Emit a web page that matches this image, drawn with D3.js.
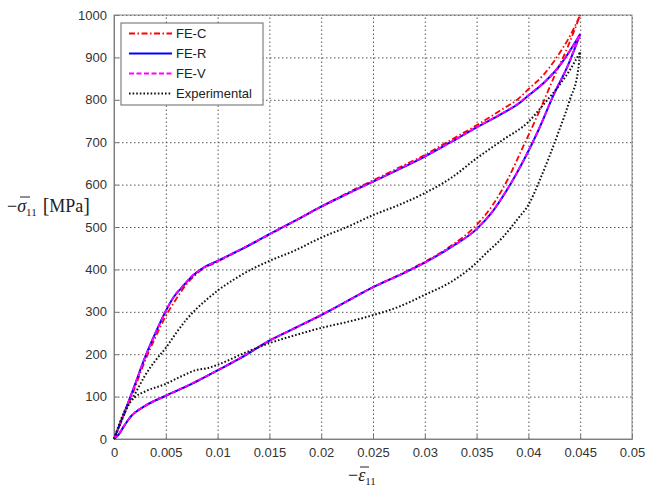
<!DOCTYPE html>
<html>
<head>
<meta charset="utf-8">
<script src="https://cdn.jsdelivr.net/npm/d3@7"></script>
<style>
  body { margin: 0; background: #fff; }
  svg { display: block; }
  .tick text { font-family: "Liberation Sans", Arial, sans-serif; font-size: 13px; fill: #333; }
</style>
</head>
<body>
<svg width="646" height="491"></svg>
<script>
// strain ticks / stress ticks
var xTicks = [0, 0.005, 0.01, 0.015, 0.02, 0.025, 0.03, 0.035, 0.04, 0.045, 0.05];
var xTickLabels = ["0", "0.005", "0.01", "0.015", "0.02", "0.025", "0.03", "0.035", "0.04", "0.045", "0.05"];
var yTicks = [0, 100, 200, 300, 400, 500, 600, 700, 800, 900, 1000];

// upper (loading) branches, [strain, stress]
var feC_upper = [[0,0],[0.001,58],[0.002,120],[0.003,185],[0.004,240],[0.005,290],[0.006,330],[0.007,365],[0.008,390],[0.0085,400],[0.01,418],[0.0125,450],[0.015,482],[0.0175,515],[0.02,548],[0.0225,580],[0.025,610],[0.0275,640],[0.03,670],[0.0325,705],[0.035,740],[0.0375,778],[0.039,802],[0.04,825],[0.0415,860],[0.043,910],[0.044,950],[0.045,1000]];
var feR_upper = [[0,0],[0.001,62],[0.002,127],[0.003,193],[0.004,250],[0.005,302],[0.0058,336],[0.0065,356],[0.0075,383],[0.0085,402],[0.01,420],[0.0125,450],[0.015,483],[0.0175,515],[0.02,548],[0.0225,578],[0.025,607],[0.0275,636],[0.03,666],[0.0325,700],[0.035,735],[0.0375,768],[0.039,790],[0.04,810],[0.0415,840],[0.043,880],[0.044,915],[0.045,955]];
var feV_upper = [[0,0],[0.001,62],[0.002,127],[0.003,193],[0.004,250],[0.005,302],[0.0058,337],[0.0065,357],[0.0075,384],[0.0085,402],[0.01,420],[0.0125,451],[0.015,483],[0.0175,515],[0.02,548],[0.0225,578],[0.025,607],[0.0275,637],[0.03,667],[0.0325,700],[0.035,735],[0.0375,769],[0.039,791],[0.04,811],[0.0415,841],[0.043,881],[0.044,916],[0.045,955]];
var exp_upper = [[0,0],[0.0005,30],[0.001,60],[0.002,105],[0.003,150],[0.004,185],[0.005,215],[0.006,250],[0.007,282],[0.008,308],[0.009,330],[0.01,350],[0.0115,375],[0.0135,403],[0.015,420],[0.0175,445],[0.02,475],[0.0225,500],[0.025,528],[0.0275,552],[0.03,580],[0.0325,615],[0.035,662],[0.0375,705],[0.04,748],[0.0415,790],[0.043,835],[0.044,870],[0.045,913]];

// lower branches, [strain, stress]
var feC_lower = [[0,0],[0.0005,12],[0.001,32],[0.0017,55],[0.003,78],[0.005,102],[0.0075,130],[0.01,162],[0.0125,195],[0.015,232],[0.0175,262],[0.02,292],[0.0225,325],[0.025,358],[0.0275,387],[0.03,418],[0.0325,455],[0.035,505],[0.0365,550],[0.038,612],[0.0395,690],[0.041,770],[0.0425,855],[0.0438,925],[0.045,1000]];
var feR_lower = [[0,0],[0.0005,12],[0.001,32],[0.0017,55],[0.003,78],[0.005,102],[0.0075,130],[0.01,162],[0.0125,195],[0.015,232],[0.0175,262],[0.02,292],[0.0225,325],[0.025,358],[0.0275,386],[0.03,416],[0.0325,452],[0.035,495],[0.0365,535],[0.038,590],[0.0395,655],[0.041,730],[0.0425,815],[0.0438,880],[0.045,955]];
var feV_lower = [[0,0],[0.0005,12],[0.001,32],[0.0017,55],[0.003,78],[0.005,102],[0.0075,131],[0.01,162],[0.0125,196],[0.015,232],[0.0175,262],[0.02,293],[0.0225,325],[0.025,358],[0.0275,386],[0.03,416],[0.0325,452],[0.035,496],[0.0365,536],[0.038,591],[0.0395,656],[0.041,731],[0.0425,816],[0.0438,881],[0.045,955]];
var exp_lower = [[0,0],[0.0005,35],[0.001,65],[0.002,98],[0.003,112],[0.005,130],[0.0065,148],[0.008,163],[0.009,167],[0.01,175],[0.0125,202],[0.015,226],[0.0175,245],[0.02,262],[0.0225,276],[0.025,292],[0.0275,312],[0.03,340],[0.0325,370],[0.0345,405],[0.036,440],[0.0375,475],[0.039,520],[0.04,552],[0.041,605],[0.042,665],[0.043,730],[0.044,800],[0.0448,870],[0.045,913]];

var seriesNames = ["FE-C", "FE-R", "FE-V", "Experimental"];

var svg = d3.select("svg");
var pLeft = 114, pRight = 632, pTop = 15, pBottom = 439;

var x = d3.scaleLinear().domain([0, 0.05]).range([pLeft, pRight]);
var y = d3.scaleLinear().domain([0, 1000]).range([pBottom, pTop]);

// grid
svg.append("g")
  .attr("transform", "translate(0," + pBottom + ")")
  .call(d3.axisBottom(x).tickValues(xTicks).tickSize(-(pBottom - pTop)).tickFormat(""))
  .call(function(g) {
    g.select(".domain").remove();
    g.selectAll("line").attr("stroke", "#555").attr("stroke-dasharray", "1.5,2.5");
  });
svg.append("g")
  .attr("transform", "translate(" + pLeft + ",0)")
  .call(d3.axisLeft(y).tickValues(yTicks).tickSize(-(pRight - pLeft)).tickFormat(""))
  .call(function(g) {
    g.select(".domain").remove();
    g.selectAll("line").attr("stroke", "#555").attr("stroke-dasharray", "1.5,2.5");
  });

// axes with labels
svg.append("g")
  .attr("transform", "translate(0," + pBottom + ")")
  .call(d3.axisBottom(x).tickValues(xTicks).tickSize(-4).tickPadding(9)
    .tickFormat(function(d, i) { return xTickLabels[i]; }))
  .call(function(g) {
    g.select(".domain").attr("stroke", "#777");
    g.selectAll("line").attr("stroke", "#777");
  });
svg.append("g")
  .attr("transform", "translate(" + pLeft + ",0)")
  .call(d3.axisLeft(y).tickValues(yTicks).tickSize(-4).tickPadding(7).tickFormat(d3.format("d")))
  .call(function(g) {
    g.select(".domain").attr("stroke", "#777");
    g.selectAll("line").attr("stroke", "#777");
  });
svg.append("rect")
  .attr("x", pLeft).attr("y", pTop)
  .attr("width", pRight - pLeft).attr("height", pBottom - pTop)
  .attr("fill", "none").attr("stroke", "#888").attr("stroke-width", 1);

var line = d3.line()
  .x(function(d) { return x(d[0]); })
  .y(function(d) { return y(d[1]); })
  .curve(d3.curveMonotoneX);

var styles = [
  { data: [feC_upper, feC_lower], color: "#ff0000", width: 1.8, dash: "6,2.5,1.5,2.5" },
  { data: [feR_upper, feR_lower], color: "#0000ff", width: 2, dash: null },
  { data: [feV_upper, feV_lower], color: "#ff00ff", width: 1.8, dash: "5,2.5" },
  { data: [exp_upper, exp_lower], color: "#111", width: 2, dash: "1.6,2" }
];

svg.selectAll("path.series")
  .data(styles)
  .enter()
  .append("path")
  .attr("class", "series")
  .attr("d", function(d) {
    return line(d.data[0]) + line(d.data[1]);
  })
  .attr("fill", "none")
  .attr("stroke", function(d) { return d.color; })
  .attr("stroke-width", function(d) { return d.width; })
  .attr("stroke-dasharray", function(d) { return d.dash; });

// legend
var lg = svg.append("g");
lg.append("rect")
  .attr("x", 121).attr("y", 23).attr("width", 142).attr("height", 82)
  .attr("fill", "#fff").attr("stroke", "#666").attr("stroke-width", 1);
var items = lg.selectAll("g.item")
  .data(styles)
  .enter()
  .append("g")
  .attr("transform", function(d, i) { return "translate(0," + (33.5 + i * 20) + ")"; });
items.append("line")
  .attr("x1", 129).attr("x2", 172).attr("y1", 0).attr("y2", 0)
  .attr("stroke", function(d) { return d.color; })
  .attr("stroke-width", function(d) { return d.width; })
  .attr("stroke-dasharray", function(d) { return d.dash; });
items.append("text")
  .attr("x", 176).attr("y", 4.5)
  .style("font-family", "'Liberation Sans', Arial, sans-serif")
  .style("font-size", "13px")
  .attr("fill", "#222")
  .text(function(d, i) { return seriesNames[i]; });

// axis titles (bar over the symbol drawn as a short line)
var yl = svg.append("text")
  .attr("x", 7).attr("y", 212)
  .style("font-family", "'Liberation Serif', 'Times New Roman', serif")
  .style("font-size", "18px")
  .attr("fill", "#222");
yl.append("tspan").text("\u2212");
yl.append("tspan").style("font-style", "italic").text("\u03C3");
yl.append("tspan").attr("dy", 4).style("font-size", "11px").text("11");
yl.append("tspan").attr("dy", -4).attr("dx", 6).style("font-size", "20px").text("[");
yl.append("tspan").text("MPa");
yl.append("tspan").style("font-size", "20px").text("]");
svg.append("line").attr("x1", 20).attr("x2", 30).attr("y1", 197).attr("y2", 197)
  .attr("stroke", "#222").attr("stroke-width", 1);

var xl = svg.append("text")
  .attr("x", 348).attr("y", 481)
  .style("font-family", "'Liberation Serif', 'Times New Roman', serif")
  .style("font-size", "18px")
  .attr("fill", "#222");
xl.append("tspan").text("\u2212");
xl.append("tspan").style("font-style", "italic").text("\u03B5");
xl.append("tspan").attr("dy", 4).style("font-size", "11px").text("11");
svg.append("line").attr("x1", 360).attr("x2", 369).attr("y1", 467).attr("y2", 467)
  .attr("stroke", "#222").attr("stroke-width", 1);
</script>
</body>
</html>
